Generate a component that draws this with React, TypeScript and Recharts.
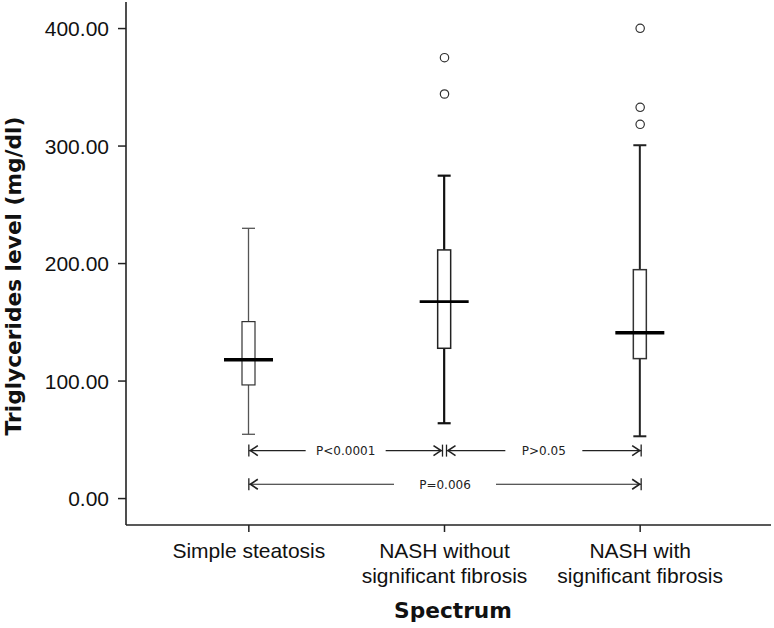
import React from 'react';
import { ComposedChart, Bar, Line, XAxis, YAxis, ReferenceLine, Label } from 'recharts';

// ---- data ----
const CATEGORIES = [
  'Simple steatosis',
  'NASH without significant fibrosis',
  'NASH with significant fibrosis',
];
const CATEGORY_LINES = [
  ['Simple steatosis'],
  ['NASH without', 'significant fibrosis'],
  ['NASH with', 'significant fibrosis'],
];
const WHISKER_LOW = [54.7, 64.1, 53.0];
const Q1 = [96.7, 127.9, 119.1];
const MEDIAN = [118.2, 167.6, 141.2];
const Q3 = [150.6, 211.6, 194.8];
const WHISKER_HIGH = [230.0, 274.8, 300.7];
const OUTLIERS: number[][] = [[], [375.2, 344.3], [400.2, 333.0, 318.5]];
const Y_TICKS = [0, 100, 200, 300, 400];
const Y_DOMAIN: [number, number] = [-22.5, 422.6];
const COMPARISON_FROM = [0, 1, 0];
const COMPARISON_TO = [1, 2, 2];
const COMPARISON_Y = [40.8, 40.8, 12.2];
const COMPARISON_LABELS = ['P<0.0001', 'P>0.05', 'P=0.006'];

// ---- styles ----
const BOX_STYLES = [
  { whisker: '#555', whiskerWidth: 1.3, box: '#333', boxWidth: 1.2, medianWidth: 3.5 },
  { whisker: '#111', whiskerWidth: 2.2, box: '#222', boxWidth: 1.5, medianWidth: 2.6 },
  { whisker: '#222', whiskerWidth: 2.0, box: '#333', boxWidth: 1.5, medianWidth: 3.5 },
];
const COMPARISON_STYLES = [
  { shiftStart: 0, shiftEnd: -2, gap: 40 },
  { shiftStart: 2, shiftEnd: 1, gap: 38.5 },
  { shiftStart: 0, shiftEnd: 1, gap: 51 },
];
const AXIS_COLOR = '#222';
const SANS = '"Liberation Sans", Arial, sans-serif';
const BOLD = '"DejaVu Sans", Verdana, sans-serif';

const rows = CATEGORIES.map((name, i) => ({
  name,
  range: [WHISKER_LOW[i], WHISKER_HIGH[i]],
  low: WHISKER_LOW[i],
  q1: Q1[i],
  median: MEDIAN[i],
  q3: Q3[i],
  high: WHISKER_HIGH[i],
  o0: OUTLIERS[i][0] ?? null,
  o1: OUTLIERS[i][1] ?? null,
  o2: OUTLIERS[i][2] ?? null,
}));

const BoxShape = (props: any) => {
  const { x, y, width, height, payload } = props;
  if (!payload) return <g />;
  const idx = CATEGORIES.indexOf(payload.name);
  const st = BOX_STYLES[idx] || BOX_STYLES[0];
  const top = Math.min(y, y + height);
  const bottom = Math.max(y, y + height);
  const k = (bottom - top) / (payload.high - payload.low);
  const py = (v: number) => bottom - (v - payload.low) * k;
  const cx = x + width / 2;
  return (
    <g>
      <line x1={cx} x2={cx} y1={py(payload.high)} y2={py(payload.q3)} stroke={st.whisker} strokeWidth={st.whiskerWidth} />
      <line x1={cx} x2={cx} y1={py(payload.q1)} y2={py(payload.low)} stroke={st.whisker} strokeWidth={st.whiskerWidth} />
      <line x1={x} x2={x + width} y1={py(payload.high)} y2={py(payload.high)} stroke={st.whisker} strokeWidth={st.whiskerWidth} />
      <line x1={x} x2={x + width} y1={py(payload.low)} y2={py(payload.low)} stroke={st.whisker} strokeWidth={st.whiskerWidth} />
      <rect x={x} y={py(payload.q3)} width={width} height={py(payload.q1) - py(payload.q3)} fill="#fff" stroke={st.box} strokeWidth={st.boxWidth} />
      <line x1={cx - 24.5} x2={cx + 24.5} y1={py(payload.median)} y2={py(payload.median)} stroke="#000" strokeWidth={st.medianWidth} />
    </g>
  );
};

const OutlierDot = (props: any) => {
  const { cx, cy, value } = props;
  if (cy == null || value == null || Number.isNaN(cy)) return <g key={props.key} />;
  return <circle key={props.key} cx={cx} cy={cy} r={4.2} fill="#fff" stroke="#333" strokeWidth={1.2} />;
};

const XTick = (props: any) => {
  const { x, y, payload } = props;
  const idx = CATEGORIES.indexOf(payload.value);
  const lines = CATEGORY_LINES[idx] || [payload.value];
  return (
    <g>
      {lines.map((t: string, j: number) => (
        <text key={j} x={x} y={y + 24 + j * 25} textAnchor="middle" fontFamily={SANS} fontSize={21} fill="#111">
          {t}
        </text>
      ))}
    </g>
  );
};

const makeComparison = (i: number) => (p: any) => {
  const st = COMPARISON_STYLES[i];
  const xs = p.x1 + st.shiftStart;
  const xe = p.x2 + st.shiftEnd;
  const yy = p.y1;
  const mid = (xs + xe) / 2;
  const c = '#222';
  return (
    <g>
      <line x1={xs} x2={xs} y1={yy - 6} y2={yy + 6} stroke={c} strokeWidth={1.3} />
      <line x1={xe} x2={xe} y1={yy - 6} y2={yy + 6} stroke={c} strokeWidth={1.3} />
      <line x1={xs} x2={mid - st.gap} y1={yy} y2={yy} stroke={c} strokeWidth={1.2} />
      <line x1={mid + st.gap} x2={xe} y1={yy} y2={yy} stroke={c} strokeWidth={1.2} />
      <polyline points={`${xs + 9},${yy - 5} ${xs + 1.5},${yy} ${xs + 9},${yy + 5}`} fill="none" stroke={c} strokeWidth={1.6} />
      <polyline points={`${xe - 9},${yy - 5} ${xe - 1.5},${yy} ${xe - 9},${yy + 5}`} fill="none" stroke={c} strokeWidth={1.6} />
      <text x={mid} y={yy} dy="0.36em" textAnchor="middle" fontFamily={BOLD} fontSize={12} fill="#222">
        {COMPARISON_LABELS[i]}
      </text>
    </g>
  );
};

const YTitle = () => (
  <text x={20.5} y={276} transform="rotate(-90, 20.5, 276)" textAnchor="middle" fontFamily={BOLD} fontWeight="bold" fontSize={21.7} fill="#111">
    Triglycerides level (mg/dl)
  </text>
);

const XTitle = () => (
  <text x={453} y={618} textAnchor="middle" fontFamily={BOLD} fontWeight="bold" fontSize={21.7} fill="#111">
    Spectrum
  </text>
);

export default function App() {
  const axisLine = { stroke: AXIS_COLOR, strokeWidth: 1.6 };
  return (
    <div style={{ position: 'absolute', left: 0, top: 0, width: 774, height: 628, background: '#fff' }}>
      <ComposedChart width={774} height={628} data={rows} margin={{ top: 2, right: 3, bottom: 0, left: 0 }}>
        <XAxis
          dataKey="name"
          type="category"
          padding={{ left: 25, right: 33 }}
          height={103}
          tickSize={7}
          tickMargin={2}
          interval={0}
          axisLine={axisLine}
          tickLine={{ stroke: AXIS_COLOR, strokeWidth: 1.5 }}
          tick={(p: any) => <XTick {...p} />}
        >
          <Label content={XTitle} />
        </XAxis>
        <XAxis xAxisId="top" orientation="top" dataKey="name" height={0} tick={false} tickLine={false} axisLine={axisLine} padding={{ left: 25, right: 33 }} />
        <YAxis
          type="number"
          domain={Y_DOMAIN}
          ticks={Y_TICKS}
          allowDataOverflow
          interval={0}
          tickFormatter={(v: number) => v.toFixed(2)}
          width={126}
          tickSize={8}
          tickMargin={9}
          axisLine={axisLine}
          tickLine={{ stroke: AXIS_COLOR, strokeWidth: 1.5 }}
          tick={{ fontSize: 21, fill: '#111', fontFamily: SANS }}
        >
          <Label content={YTitle} />
        </YAxis>
        <YAxis yAxisId="right" orientation="right" type="number" domain={Y_DOMAIN} allowDataOverflow width={0} tick={false} tickLine={false} axisLine={axisLine} />
        <Bar dataKey="range" barSize={13} shape={BoxShape} isAnimationActive={false} />
        {['o0', 'o1', 'o2'].map((k) => (
          <Line key={k} dataKey={k} stroke="none" dot={OutlierDot} activeDot={false} isAnimationActive={false} connectNulls={false} />
        ))}
        {COMPARISON_LABELS.map((_, i) => (
          <ReferenceLine
            key={i}
            segment={[
              { x: CATEGORIES[COMPARISON_FROM[i]], y: COMPARISON_Y[i] },
              { x: CATEGORIES[COMPARISON_TO[i]], y: COMPARISON_Y[i] },
            ]}
            shape={makeComparison(i)}
            ifOverflow="visible"
          />
        ))}
      </ComposedChart>
    </div>
  );
}
